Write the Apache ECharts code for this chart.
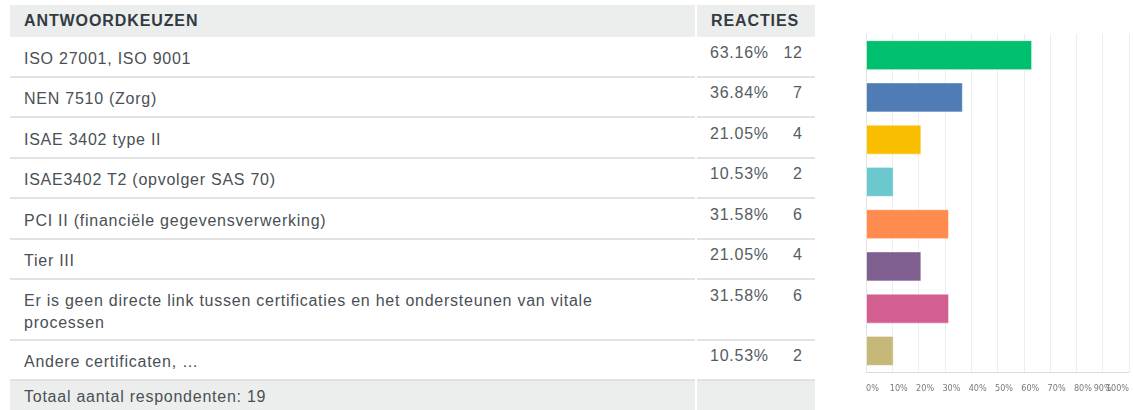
<!DOCTYPE html>
<html>
<head>
    <meta charset="utf-8">
    <title>Certificaties</title>
    <script type="text/javascript" src="https://cdn.jsdelivr.net/npm/echarts@6/dist/echarts.min.js"></script>
    <style>
        body { margin:0; width:1133px; height:410px; overflow:hidden; background:#fff; font-family:"Liberation Sans", Arial, sans-serif; }
        #tabel { position:absolute; left:8px; top:5px; width:809px; border-collapse:separate; border-spacing:2px 0; }
        #tabel td, #tabel th { font-size:16px; letter-spacing:0.75px; color:#4a5055; text-align:left; }
        #tabel th { background:#eceeee; height:32px; padding:0 0 0 14px; font-weight:bold; font-size:16px; color:#333b42; letter-spacing:0.9px; }
        #tabel td { border-bottom:2px solid #e0e3e4; padding:10.5px 60px 6px 14px; line-height:22px; vertical-align:middle; }
        #tabel tr.lang td { padding-top:9.5px; padding-bottom:5px; }
        #tabel td.pct { vertical-align:top; padding:4.5px 0 6px 13px; color:#555c62; white-space:nowrap; }
        #tabel tr.lang td.pct { padding-top:4.5px; }
        #tabel td.pct span.n { display:inline-block; width:34px; text-align:right; }
        #tabel tr.tot td { background:#eceeee; border-bottom:none; padding-top:5px; }
        #main { position:absolute; left:840px; top:0; width:293px; height:410px; }
    </style>
</head>
<body>
    <table id="tabel"></table>
    <div id="main"></div>

    <script type="text/javascript">
        var keuzen = [
            'ISO 27001, ISO 9001',
            'NEN 7510 (Zorg)',
            'ISAE 3402 type II',
            'ISAE3402 T2 (opvolger SAS 70)',
            'PCI II (financiële gegevensverwerking)',
            'Tier III',
            'Er is geen directe link tussen certificaties en het ondersteunen van vitale processen',
            'Andere certificaten, …'
        ];
        var procenten = [63.16, 36.84, 21.05, 10.53, 31.58, 21.05, 31.58, 10.53];
        var aantallen = [12, 7, 4, 2, 6, 4, 6, 2];
        var kleuren = ['#00bf6f', '#507cb6', '#f9be00', '#6bc8cd', '#ff8b4f', '#7f5f90', '#d25f90', '#c7b879'];
        var asLabels = ['0%', '10%', '20%', '30%', '40%', '50%', '60%', '70%', '80%', '90%', '100%'];
        var totaal = 19;

        // tabel links
        var html = '<tr><th style="width:671px">ANTWOORDKEUZEN</th><th>REACTIES</th></tr>';
        for ( var i = 0; i < keuzen.length; i++ ) {
            var cls = keuzen[i].length > 70 ? ' class="lang"' : '';
            html += '<tr' + cls + '><td>' + keuzen[i] + '</td><td class="pct">' + procenten[i].toFixed(2) + '%<span class="n">' + aantallen[i] + '</span></td></tr>';
        }
        html += '<tr class="tot"><td>Totaal aantal respondenten: ' + totaal + '</td><td class="pct"></td></tr>';
        document.getElementById('tabel').innerHTML = html;

        // staafdiagram rechts
        var myChart = echarts.init(document.getElementById('main'));

        var data = new Array();
        for ( var i = 0; i < procenten.length; i++ ) {
            data.push({
                value: procenten[i],
                itemStyle: { color: kleuren[i], borderColor: 'rgba(255,255,255,0.5)', borderWidth: 1 }
            });
        }

        var labelFont = '"Liberation Sans Narrow", "DejaVu Sans Condensed", sans-serif';

        var option = {
            animation: false,
            grid: { left: 26, right: 4, top: 34, bottom: 38, outerBoundsMode: 'none' },
            xAxis: [
                {
                    type: 'value',
                    min: 0,
                    max: 100,
                    interval: 10,
                    axisLine: { show: true, lineStyle: { color: '#dcdcdc' } },
                    axisTick: { show: false },
                    splitLine: { lineStyle: { color: '#eeeeee' } },
                    axisLabel: {
                        fontSize: 9,
                        fontFamily: labelFont,
                        color: '#7a7a7a',
                        margin: 12,
                        align: 'center',
                        alignMinLabel: 'left',
                        showMinLabel: true,
                        showMaxLabel: false,
                        hideOverlap: false,
                        formatter: function (v) {
                            var k = Math.round(v / 10);
                            // labels staan in het origineel iets rechts van de lijn
                            if ( k >= 1 && k <= 8 ) {
                                return '{s|' + asLabels[k] + '}';
                            }
                            return asLabels[k];
                        },
                        rich: {
                            s: { fontSize: 9, fontFamily: labelFont, color: '#7a7a7a', padding: [0, 0, 0, 13] }
                        }
                    }
                },
                {
                    // alleen voor het label 100%
                    type: 'value',
                    position: 'bottom',
                    min: 0,
                    max: 100,
                    interval: 10,
                    axisLine: { show: false },
                    axisTick: { show: false },
                    splitLine: { show: false },
                    axisLabel: {
                        fontSize: 9,
                        fontFamily: labelFont,
                        color: '#7a7a7a',
                        margin: 12,
                        align: 'right',
                        showMinLabel: false,
                        showMaxLabel: true,
                        formatter: function (v) {
                            var k = Math.round(v / 10);
                            return k == 10 ? asLabels[k] : '';
                        }
                    }
                }
            ],
            yAxis: {
                type: 'category',
                inverse: true,
                data: keuzen,
                axisLine: { show: true, lineStyle: { color: '#e4e4e4' } },
                axisTick: { show: false },
                axisLabel: { show: false }
            },
            series: [
                {
                    type: 'bar',
                    xAxisIndex: 0,
                    barWidth: 30,
                    data: data
                }
            ]
        };
        myChart.setOption(option);
    </script>
</body>
</html>
